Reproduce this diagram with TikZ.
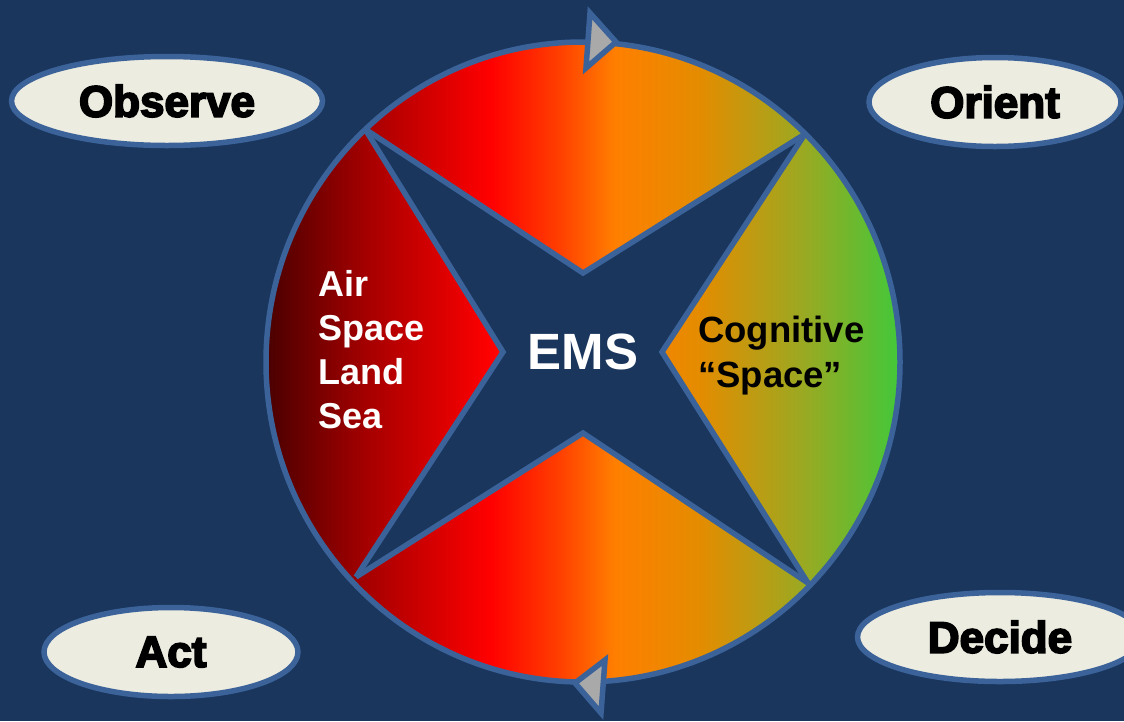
\documentclass[tikz,border=0pt]{standalone}
\usepackage{fontspec}
\setmainfont{Liberation Sans}
\newfontfamily\heavyfont[FakeBold=4]{Liberation Sans Bold}
\usetikzlibrary{shapes.geometric}

\definecolor{navybg}{HTML}{1A365D}
\definecolor{rimblue}{HTML}{3B6399}
\definecolor{ovalfill}{HTML}{EDECE1}
\definecolor{tipgray}{HTML}{A9A9A9}
\definecolor{wheelA}{HTML}{4A0000}
\definecolor{wheelB}{HTML}{A80000}
\definecolor{wheelC}{HTML}{FF0000}
\definecolor{wheelD}{HTML}{FF4000}
\definecolor{wheelE}{HTML}{FF7F00}
\definecolor{wheelF}{HTML}{E48C00}
\definecolor{wheelG}{HTML}{9DA821}
\definecolor{wheelH}{HTML}{42C83A}

\pgfdeclarehorizontalshading{wheel}{100bp}{color(0bp)=(wheelA); color(25bp)=(wheelA); color(33.2bp)=(wheelB); color(42.7bp)=(wheelC); color(48.2bp)=(wheelD); color(52.5bp)=(wheelE); color(59.2bp)=(wheelF); color(67.1bp)=(wheelG); color(75bp)=(wheelH); color(100bp)=(wheelH)}

\begin{document}
\begin{tikzpicture}[x=1pt, y=-1pt,
    phase/.style={ellipse, draw=rimblue, line width=5.5pt, fill=ovalfill, inner sep=0pt,
        minimum height=89pt, font=\heavyfont\fontsize{44}{48}\selectfont},
    rim/.style={draw=rimblue, line width=5.5pt},
    tip/.style={rim, fill=tipgray}]
    \useasboundingbox (0,0) rectangle (1124,721);
    \fill[navybg] (0,0) rectangle (1124,721);
    \clip (0,0) rectangle (1124,721);

    % wheel
    \coordinate (c) at (583,362);
    \coordinate (tl) at (365,129);
    \coordinate (tr) at (805,134);
    \coordinate (bl) at (356,577);
    \coordinate (br) at (808,583);
    \coordinate (tv) at (583,273);
    \coordinate (lv) at (503,352);
    \coordinate (rv) at (662,352);
    \coordinate (bv) at (583,433);

    \shade[shading=wheel] (c) ellipse [x radius=317pt, y radius=320pt];
    \fill[navybg] (tl) -- (tv) -- (tr) -- (rv) -- (br) -- (bv) -- (bl) -- (lv) -- cycle;
    \draw[rim] (tl) -- (tv) -- (tr);
    \draw[rim] (tr) -- (rv) -- (br);
    \draw[rim] (br) -- (bv) -- (bl);
    \draw[rim] (bl) -- (lv) -- (tl);
    \draw[rim] (c) ellipse [x radius=317pt, y radius=320pt];

    % direction marks
    \draw[tip] (590,13) -- (616,42) -- (586,68) -- cycle;
    \draw[tip] (605,660) -- (575,683) -- (601,713) -- cycle;

    % labels in the wheel
    \node (ems) at (583,352) [text=white, inner sep=0pt, font=\bfseries\fontsize{51}{55}\selectfont] {EMS};
    \node (domains) at (318,350) [anchor=west, align=left, text=white, inner sep=0pt,
        font=\bfseries\fontsize{36}{44}\selectfont] {Air\\Space\\Land\\Sea};
    \node (cognitive) at (698,356) [anchor=west, align=left, text=black, inner sep=0pt,
        font=\bfseries\fontsize{36.5}{45}\selectfont] {Cognitive\\“Space”};

    % OODA phases
    \node (observe) at (167,101) [phase, minimum width=311pt] {Observe};
    \node (orient) at (995,102) [phase, minimum width=252pt] {Orient};
    \node (decide) at (1000,637) [phase, minimum width=285pt] {Decide};
    \node (act) at (171,652) [phase, minimum width=254pt] {Act};
\end{tikzpicture}
\end{document}
